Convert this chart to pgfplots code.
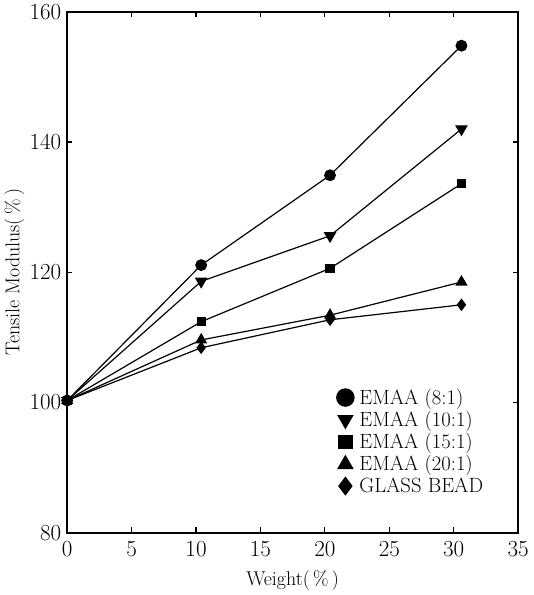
\documentclass[border=0pt]{standalone}
\usepackage{pgfplots}
\pgfplotsset{compat=1.18}
\begin{document}
\begin{tikzpicture}
\begin{axis}[
  scale only axis,
  width=339pt, height=391.5pt,
  xmin=0, xmax=35, ymin=80, ymax=160,
  xtick={0,5,...,35}, ytick={80,100,...,160},
  axis line style={line width=1.3pt},
  tick style={line width=0.9pt, black},
  major tick length=4pt,
  tick label style={font=\fontsize{16}{19}\selectfont},
  xticklabel style={yshift=-3pt},
  yticklabel style={xshift=-1pt},
  label style={font=\fontsize{15}{18}\selectfont},
  xlabel={Weight(\,\%\,)},
  ylabel={Tensile Modulus(\,\%\,)},
  xlabel style={yshift=-4pt},
  ylabel style={yshift=-3pt},
  every axis plot/.append style={black, line width=0.9pt, mark options={solid, fill=black}},
  legend style={draw=none, fill=none, inner sep=0pt,
    at={(axis cs:20.9,102.5)}, anchor=north west,
    font=\fontsize{15.5}{18}\selectfont, row sep=0pt,
    nodes={inner xsep=4pt, inner ysep=1.8pt}},
  legend cell align=left,
  legend image code/.code={\draw[#1] plot coordinates {(0.25cm,0cm)};},
]
% EMAA (8:1)
\addplot[mark=*, mark size=4pt, forget plot] coordinates {(0,100.3) (10.4,121.1) (20.4,134.9) (30.6,154.8)};
% EMAA (10:1)
\addplot[mark=triangle*, mark options={rotate=180}, mark size=4.6pt, forget plot] coordinates {(0,100.3) (10.4,118.6) (20.4,125.6) (30.6,142.0)};
% EMAA (15:1)
\addplot[mark=square*, mark size=3pt, forget plot] coordinates {(0,100.3) (10.4,112.4) (20.4,120.6) (30.6,133.6)};
% EMAA (20:1)
\addplot[mark=triangle*, mark size=4.4pt, forget plot] coordinates {(0,100.3) (10.4,109.6) (20.4,113.4) (30.6,118.5)};
% glass bead
\addplot[mark=diamond*, mark size=4pt, forget plot] coordinates {(0,100.3) (10.4,108.4) (20.4,112.7) (30.6,115.0)};

\addlegendimage{only marks, black, mark=*, mark size=6.5pt}
\addlegendentry{EMAA (8:1)}
\addlegendimage{only marks, black, mark=triangle*, mark options={rotate=180}, mark size=6.3pt}
\addlegendentry{EMAA (10:1)}
\addlegendimage{only marks, black, mark=square*, mark size=5pt}
\addlegendentry{EMAA (15:1)}
\addlegendimage{only marks, black, mark=triangle*, mark size=6.3pt}
\addlegendentry{EMAA (20:1)}
\addlegendimage{only marks, black, mark=diamond*, mark size=6.5pt}
\addlegendentry{GLASS BEAD}
\end{axis}
\end{tikzpicture}
\end{document}
